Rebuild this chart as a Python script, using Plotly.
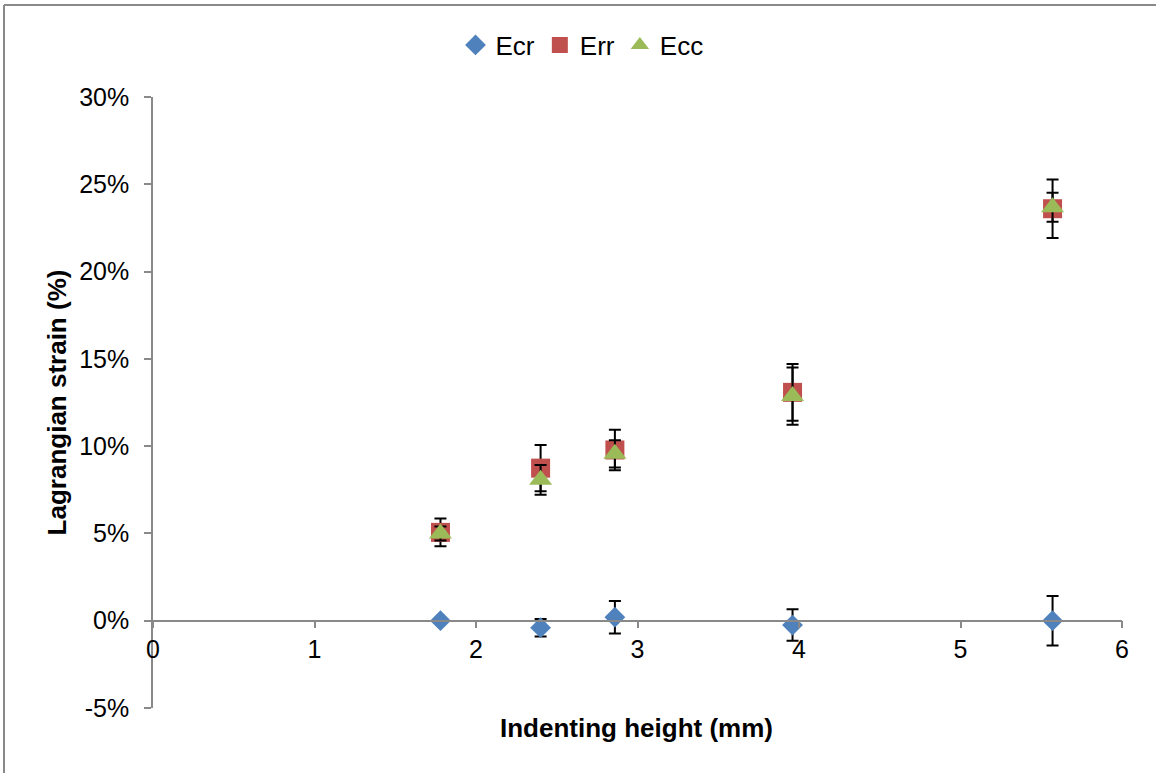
import plotly.graph_objects as go

# Data
indent_height = [1.78, 2.40, 2.86, 3.96, 5.57]

ecr = [0.000, -0.004, 0.002, -0.0025, 0.000]
ecr_err = [0.000, 0.005, 0.0093, 0.009, 0.0142]

err = [0.0506, 0.0874, 0.0978, 0.1308, 0.2360]
err_err = [0.008, 0.0133, 0.0116, 0.0162, 0.0167]

ecc = [0.0500, 0.0807, 0.0956, 0.1287, 0.2368]
ecc_err = [0.004, 0.0085, 0.0078, 0.0164, 0.0083]

series_names = ["Ecr", "Err", "Ecc"]

y_tick_vals = [-0.05, 0.0, 0.05, 0.10, 0.15, 0.20, 0.25, 0.30]
y_tick_text = ["-5%", "0%", "5%", "10%", "15%", "20%", "25%", "30%"]
x_tick_vals = [0, 1, 2, 3, 4, 5, 6]

FONT = "Liberation Sans, Arial, sans-serif"
AXIS_GRAY = "#898989"

W, H = 1156, 773
ML, MR, MT, MB = 153, 34, 97, 65
PW, PH = W - ML - MR, H - MT - MB

fig = go.Figure()

def eb(arr):
    return dict(type="data", array=arr, visible=True, color="black",
                thickness=2, width=6)

fig.add_trace(go.Scatter(
    x=indent_height, y=ecr, name=series_names[0], mode="markers",
    marker=dict(symbol="diamond", size=16, color="#4F81BD"),
    error_y=eb(ecr_err)))
fig.add_trace(go.Scatter(
    x=indent_height, y=err, name=series_names[1], mode="markers",
    marker=dict(symbol="square", size=19, color="#C0504D"),
    error_y=eb(err_err)))
fig.add_trace(go.Scatter(
    x=indent_height, y=ecc, name=series_names[2], mode="markers",
    marker=dict(symbol="triangle-up", size=20, color="#9BBB59"),
    error_y=eb(ecc_err)))

y_min, y_max = -0.05, 0.30

fig.update_layout(
    width=W, height=H,
    margin=dict(l=ML, r=MR, t=MT, b=MB, pad=0),
    paper_bgcolor="white", plot_bgcolor="white",
    font=dict(family=FONT, size=25, color="black"),
    showlegend=True,
    legend=dict(orientation="h", x=(582 - ML) / PW, y=(H - MB - 45) / PH,
                xanchor="center", yanchor="middle",
                font=dict(family=FONT, size=26, color="black"),
                itemwidth=30, tracegroupgap=0, bgcolor="rgba(0,0,0,0)"),
    xaxis=dict(range=[0, 6], tickvals=x_tick_vals, showgrid=False, zeroline=False,
               showline=True, linecolor=AXIS_GRAY, linewidth=1.5,
               ticks="outside", ticklen=7, tickcolor=AXIS_GRAY, tickwidth=1.5,
               anchor="free", position=(0 - y_min) / (y_max - y_min),
               tickfont=dict(family=FONT, size=25)),
    yaxis=dict(range=[y_min, y_max], tickvals=y_tick_vals, ticktext=y_tick_text,
               showgrid=False, zeroline=False,
               showline=True, linecolor=AXIS_GRAY, linewidth=1.5,
               ticks="outside", ticklen=7, tickcolor=AXIS_GRAY, tickwidth=1.5,
               ticklabelstandoff=10,
               tickfont=dict(family=FONT, size=25),
               title=dict(text="<b>Lagrangian strain (%)</b>",
                          font=dict(family=FONT, size=26), standoff=5)),
)

# x-axis title positioned as annotation (axis is free-positioned)
fig.add_annotation(text="<b>Indenting height (mm)</b>", xref="paper", yref="paper",
                   x=(636 - ML) / PW, y=(H - MB - 728) / PH, showarrow=False,
                   xanchor="center", yanchor="middle",
                   font=dict(family=FONT, size=26, color="black"))

# chart-area border (top and left edges visible)
bx = (4 - ML) / PW
by = (H - MB - 5) / PH
fig.add_shape(type="line", xref="paper", yref="paper", x0=bx, x1=(W - ML) / PW + 0.01,
              y0=by, y1=by, line=dict(color=AXIS_GRAY, width=2))
fig.add_shape(type="line", xref="paper", yref="paper", x0=bx, x1=bx,
              y0=by, y1=-(MB + 10) / PH, line=dict(color=AXIS_GRAY, width=2))

fig.write_html("out.html")
